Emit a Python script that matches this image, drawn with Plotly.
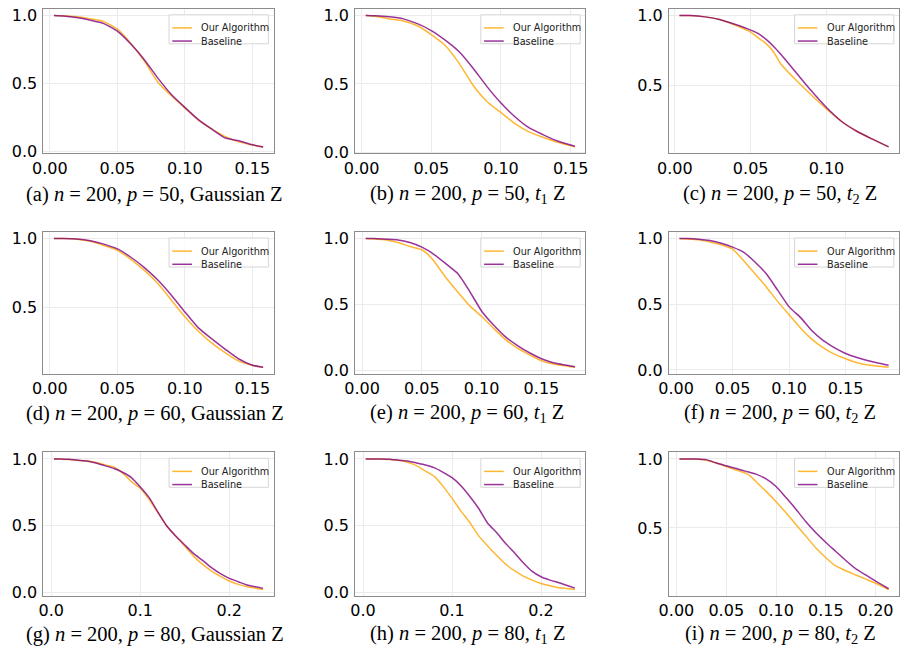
import plotly.graph_objects as go

# ---------------- data ----------------
x_a = [0.003, 0.01, 0.02, 0.03, 0.04, 0.05, 0.06, 0.07, 0.08, 0.09, 0.10, 0.11, 0.12, 0.13, 0.14, 0.15, 0.158]
alg_a = [1.0, 0.998, 0.99, 0.975, 0.955, 0.9, 0.795, 0.665, 0.51, 0.41, 0.32, 0.232, 0.165, 0.11, 0.072, 0.049, 0.035]
base_a = [1.0, 0.997, 0.985, 0.965, 0.94, 0.885, 0.79, 0.675, 0.54, 0.42, 0.325, 0.235, 0.165, 0.1, 0.08, 0.05, 0.035]

x_b = [0.003, 0.01, 0.02, 0.03, 0.04, 0.05, 0.06, 0.07, 0.08, 0.09, 0.10, 0.11, 0.12, 0.13, 0.14, 0.153]
alg_b = [1.0, 0.995, 0.975, 0.96, 0.925, 0.86, 0.78, 0.65, 0.49, 0.37, 0.29, 0.21, 0.15, 0.11, 0.075, 0.04]
base_b = [1.0, 0.998, 0.99, 0.975, 0.94, 0.89, 0.82, 0.735, 0.615, 0.48, 0.36, 0.26, 0.18, 0.13, 0.085, 0.045]

x_c = [0.003, 0.01, 0.02, 0.03, 0.04, 0.05, 0.055, 0.06, 0.065, 0.07, 0.08, 0.09, 0.10, 0.11, 0.12, 0.13, 0.141]
alg_c = [1.0, 1.0, 0.99, 0.97, 0.93, 0.88, 0.84, 0.8, 0.74, 0.65, 0.535, 0.43, 0.33, 0.24, 0.17, 0.115, 0.058]
base_c = [1.0, 1.0, 0.99, 0.97, 0.935, 0.895, 0.87, 0.83, 0.78, 0.72, 0.59, 0.46, 0.34, 0.24, 0.17, 0.115, 0.058]

x_d = [0.003, 0.01, 0.02, 0.03, 0.04, 0.05, 0.06, 0.07, 0.08, 0.09, 0.10, 0.11, 0.12, 0.13, 0.14, 0.15, 0.158]
alg_d = [1.0, 1.0, 0.995, 0.98, 0.95, 0.915, 0.85, 0.77, 0.675, 0.555, 0.435, 0.33, 0.245, 0.175, 0.115, 0.085, 0.07]
base_d = [1.0, 1.0, 0.997, 0.985, 0.96, 0.925, 0.865, 0.79, 0.7, 0.59, 0.47, 0.355, 0.275, 0.2, 0.13, 0.085, 0.07]

x_e = [0.003, 0.01, 0.02, 0.03, 0.04, 0.05, 0.055, 0.06, 0.07, 0.08, 0.09, 0.10, 0.11, 0.12, 0.13, 0.14, 0.15, 0.16, 0.178]
alg_e = [1.0, 0.997, 0.99, 0.97, 0.94, 0.915, 0.88, 0.83, 0.705, 0.595, 0.49, 0.41, 0.32, 0.235, 0.17, 0.12, 0.075, 0.05, 0.025]
base_e = [1.0, 1.0, 0.995, 0.99, 0.97, 0.935, 0.91, 0.88, 0.81, 0.735, 0.6, 0.45, 0.345, 0.255, 0.19, 0.135, 0.09, 0.06, 0.03]

x_f = [0.003, 0.01, 0.02, 0.03, 0.04, 0.05, 0.06, 0.07, 0.08, 0.09, 0.10, 0.11, 0.12, 0.13, 0.14, 0.15, 0.16, 0.17, 0.188]
alg_f = [1.0, 0.997, 0.99, 0.973, 0.953, 0.92, 0.83, 0.73, 0.63, 0.52, 0.42, 0.32, 0.235, 0.17, 0.12, 0.085, 0.055, 0.037, 0.02]
base_f = [1.0, 1.0, 0.995, 0.985, 0.965, 0.935, 0.895, 0.82, 0.73, 0.605, 0.48, 0.4, 0.3, 0.225, 0.17, 0.125, 0.095, 0.07, 0.035]

x_g = [0.003, 0.01, 0.02, 0.03, 0.04, 0.05, 0.06, 0.07, 0.08, 0.09, 0.10, 0.11, 0.12, 0.13, 0.14, 0.15, 0.16, 0.17, 0.18, 0.19, 0.20, 0.21, 0.22, 0.238]
alg_g = [1.0, 1.0, 0.995, 0.99, 0.985, 0.975, 0.955, 0.94, 0.895, 0.83, 0.78, 0.695, 0.595, 0.495, 0.42, 0.345, 0.27, 0.21, 0.16, 0.12, 0.085, 0.06, 0.042, 0.022]
base_g = [1.0, 1.0, 0.997, 0.99, 0.985, 0.97, 0.95, 0.93, 0.9, 0.86, 0.79, 0.71, 0.6, 0.495, 0.42, 0.355, 0.29, 0.24, 0.185, 0.14, 0.105, 0.08, 0.055, 0.03]

x_h = [0.003, 0.01, 0.02, 0.03, 0.04, 0.05, 0.06, 0.07, 0.08, 0.09, 0.10, 0.11, 0.12, 0.13, 0.14, 0.15, 0.16, 0.17, 0.18, 0.19, 0.20, 0.21, 0.22, 0.238]
alg_h = [1.0, 1.0, 1.0, 0.995, 0.99, 0.975, 0.95, 0.91, 0.87, 0.795, 0.705, 0.61, 0.525, 0.425, 0.35, 0.28, 0.215, 0.165, 0.125, 0.095, 0.07, 0.052, 0.037, 0.025]
base_h = [1.0, 1.0, 1.0, 0.998, 0.99, 0.985, 0.97, 0.955, 0.935, 0.9, 0.86, 0.8, 0.72, 0.63, 0.52, 0.45, 0.37, 0.3, 0.225, 0.16, 0.12, 0.095, 0.075, 0.035]

x_i = [0.003, 0.01, 0.02, 0.03, 0.04, 0.05, 0.06, 0.07, 0.075, 0.08, 0.09, 0.10, 0.11, 0.12, 0.13, 0.14, 0.15, 0.16, 0.17, 0.18, 0.19, 0.20, 0.213]
alg_i = [1.0, 1.0, 1.0, 0.99, 0.97, 0.945, 0.92, 0.895, 0.87, 0.835, 0.765, 0.69, 0.61, 0.525, 0.44, 0.355, 0.285, 0.225, 0.19, 0.16, 0.13, 0.1, 0.055]
base_i = [1.0, 1.0, 1.0, 0.995, 0.97, 0.95, 0.93, 0.91, 0.9, 0.89, 0.855, 0.8, 0.72, 0.635, 0.545, 0.465, 0.395, 0.33, 0.265, 0.205, 0.16, 0.115, 0.06]

captions = [
    "(a) <i>n</i> = 200, <i>p</i> = 50, Gaussian Z",
    "(b) <i>n</i> = 200, <i>p</i> = 50, <i>t</i><sub>1</sub> Z",
    "(c) <i>n</i> = 200, <i>p</i> = 50, <i>t</i><sub>2</sub> Z",
    "(d) <i>n</i> = 200, <i>p</i> = 60, Gaussian Z",
    "(e) <i>n</i> = 200, <i>p</i> = 60, <i>t</i><sub>1</sub> Z",
    "(f) <i>n</i> = 200, <i>p</i> = 60, <i>t</i><sub>2</sub> Z",
    "(g) <i>n</i> = 200, <i>p</i> = 80, Gaussian Z",
    "(h) <i>n</i> = 200, <i>p</i> = 80, <i>t</i><sub>1</sub> Z",
    "(i) <i>n</i> = 200, <i>p</i> = 80, <i>t</i><sub>2</sub> Z",
]
series_names = ["Our Algorithm", "Baseline"]
x_tick_steps = [0.05, 0.05, 0.05, 0.05, 0.05, 0.05, 0.1, 0.1, 0.05]
y_tick_vals = [0.0, 0.5, 1.0]

panels = [(x_a, alg_a, base_a), (x_b, alg_b, base_b), (x_c, alg_c, base_c),
          (x_d, alg_d, base_d), (x_e, alg_e, base_e), (x_f, alg_f, base_f),
          (x_g, alg_g, base_g), (x_h, alg_h, base_h), (x_i, alg_i, base_i)]

# ---------------- layout / style ----------------
W, H = 908, 662
col_px = [(32, 266), (349, 583), (668, 902)]
row_px = [(6, 153), (233, 377), (457, 603)]
caption_y_px = [195, 417, 642]
caption_x_px = [145, 463, 781]
ORANGE = "rgba(255,165,0,0.8)"
PURPLE = "rgba(128,0,128,0.8)"
TICK_FONT = dict(family="DejaVu Sans", size=16, color="black")
SERIF = "Liberation Serif, Times New Roman, serif"
# legend box geometry (pixels, relative to the panel's top-right corner)
LEG_RIGHT, LEG_TOP, LEG_W, LEG_H = 5.3, 6.0, 101.0, 29.5
LEG_ROWS = [13.3, 26.7]          # row centres below box top
LEG_LINE = (3.3, 23.3)           # sample line span from box left
LEG_TEXT = 30.5                  # text start from box left

fig = go.Figure()
layout = dict(width=W, height=H, margin=dict(l=0, r=0, t=0, b=0), showlegend=False,
              paper_bgcolor="white", plot_bgcolor="white", annotations=[], shapes=[])

for k, (xs, alg, base) in enumerate(panels):
    r, c = divmod(k, 3)
    n = k + 1
    sfx = "" if n == 1 else str(n)
    colors = (ORANGE, PURPLE)
    for name, ys, color in ((series_names[0], alg, colors[0]), (series_names[1], base, colors[1])):
        fig.add_trace(go.Scatter(x=xs, y=ys, mode="lines", name=name,
                                 line=dict(color=color, width=1.5, shape="spline", smoothing=0.5),
                                 xaxis="x" + sfx, yaxis="y" + sfx))
    x0, x1 = min(xs), max(xs)
    ylo = min(min(alg), min(base)); yhi = max(max(alg), max(base))
    dx = 0.05 * (x1 - x0); dy = 0.05 * (yhi - ylo)
    (l, rr), (t, b) = col_px[c], row_px[r]
    pw, ph = rr - l, b - t
    fmt = ".1f" if x_tick_steps[k] == 0.1 else ".2f"
    axis_common = dict(showgrid=True, gridcolor="#ebebeb", gridwidth=1, zeroline=False,
                       showline=True, mirror=True, linecolor="#8c8c8c", linewidth=1,
                       ticks="", tickfont=TICK_FONT)
    layout["xaxis" + sfx] = dict(domain=[l / W, rr / W], range=[x0 - dx, x1 + dx],
                                 anchor="y" + sfx, tick0=0, dtick=x_tick_steps[k],
                                 tickformat=fmt, ticklabelstandoff=0, **axis_common)
    layout["yaxis" + sfx] = dict(domain=[1 - b / H, 1 - t / H], range=[ylo - dy, yhi + dy],
                                 anchor="x" + sfx, tickvals=y_tick_vals, tickformat=".1f",
                                 ticklabelstandoff=2, **axis_common)

    # legend (matplotlib-style box inside the upper-right corner)
    xr, yr = f"x{sfx} domain", f"y{sfx} domain"
    bx0 = 1 - (LEG_RIGHT + LEG_W) / pw
    fx = lambda px: bx0 + px / pw
    fy = lambda px: 1 - (LEG_TOP + px) / ph
    layout["shapes"].append(dict(type="rect", xref=xr, yref=yr, x0=bx0, x1=1 - LEG_RIGHT / pw,
                                 y0=fy(LEG_H), y1=fy(0), line=dict(color="#d6d6d6", width=1),
                                 fillcolor="rgba(255,255,255,0.8)", layer="above"))
    for j in range(2):
        layout["shapes"].append(dict(type="line", xref=xr, yref=yr,
                                     x0=fx(LEG_LINE[0]), x1=fx(LEG_LINE[1]),
                                     y0=fy(LEG_ROWS[j]), y1=fy(LEG_ROWS[j]),
                                     line=dict(color=colors[j], width=1.5), layer="above"))
        layout["annotations"].append(dict(text=series_names[j], xref=xr, yref=yr,
                                          x=fx(LEG_TEXT), y=fy(LEG_ROWS[j]), xanchor="left",
                                          yanchor="middle", showarrow=False,
                                          font=dict(family="DejaVu Sans", size=9.7, color="#222")))
    layout["annotations"].append(dict(text=captions[k], xref="paper", yref="paper",
                                      x=caption_x_px[c] / W, y=1 - caption_y_px[r] / H,
                                      xanchor="center", yanchor="middle", showarrow=False,
                                      font=dict(family=SERIF, size=20.5, color="black")))

fig.update_layout(**layout)
fig.write_html("out.html")
